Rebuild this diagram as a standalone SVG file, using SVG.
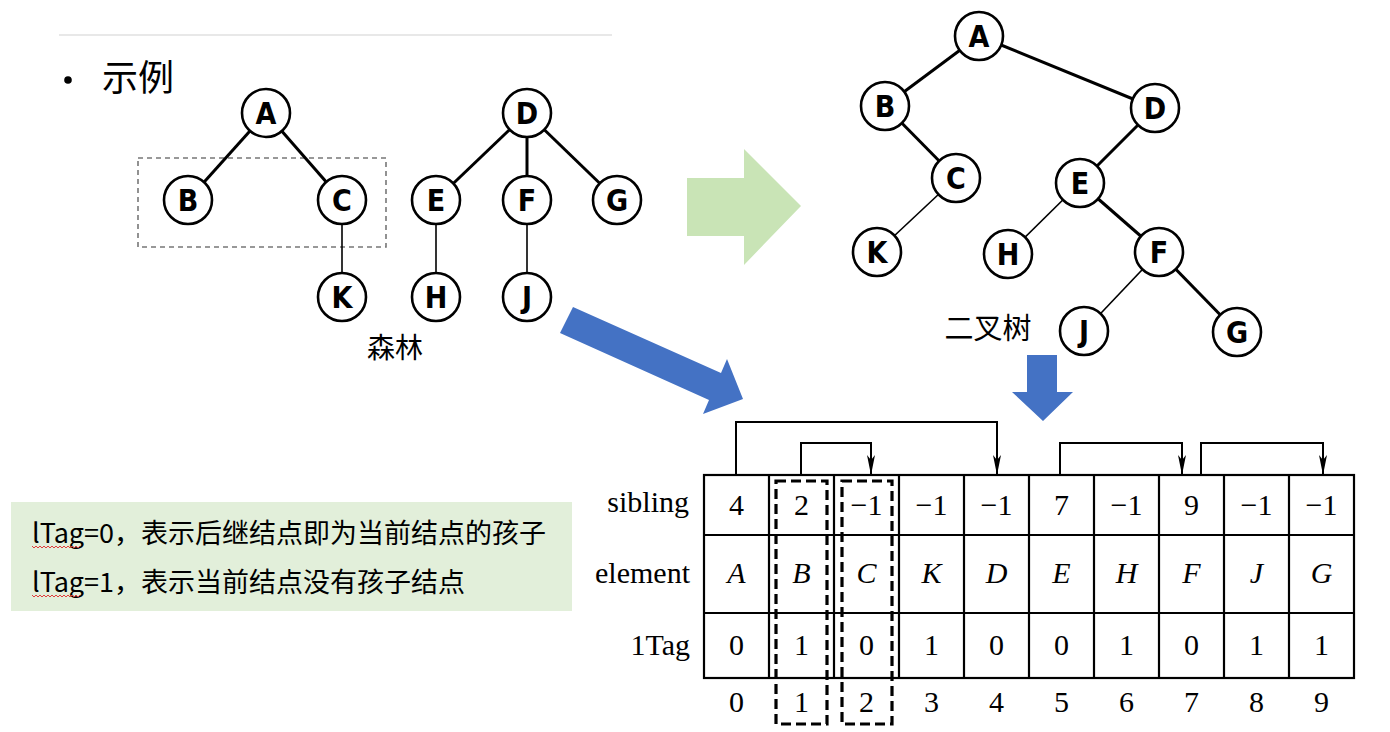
<svg xmlns="http://www.w3.org/2000/svg" width="1390" height="732" viewBox="0 0 1390 732">
<style>
.nc{fill:#fff;stroke:#000;stroke-width:2.6}
.nl{font-family:"DejaVu Sans Condensed","Liberation Sans Narrow","Liberation Sans",sans-serif;font-weight:bold;font-size:30px;text-anchor:middle;fill:#000}
.thick{stroke:#000;stroke-width:3;fill:none}
.thin{stroke:#000;stroke-width:1.6;fill:none}
.cjk{font-family:"Noto Sans CJK SC","Noto Sans",sans-serif;fill:#000}
.tm{font-family:"Liberation Serif","Times New Roman",serif;font-size:30px;fill:#000;text-anchor:middle}
.it{font-style:italic}
.lab{font-family:"Liberation Serif","Times New Roman",serif;font-size:30px;fill:#000;text-anchor:end}
.grid{stroke:#000;stroke-width:2.2;fill:none}
.ptr{stroke:#000;stroke-width:2;fill:none;marker-end:url(#ah)}
.dbox{fill:none;stroke:#000;stroke-width:3.2;stroke-dasharray:10,5}
.sq{fill:none;stroke:#e03c3c;stroke-width:1}
</style>
<defs>
<marker id="ah" markerUnits="userSpaceOnUse" viewBox="0 0 20 10" refX="20" refY="5" markerWidth="20" markerHeight="10" orient="auto">
<path d="M0,1 L20,5 L0,9 L5,5 Z" fill="#000"/>
</marker>
</defs>
<rect width="1390" height="732" fill="#fff"/>

<!-- title -->
<line x1="59" y1="35" x2="612" y2="35" stroke="#e8e8e8" stroke-width="2"/>
<circle cx="68" cy="80" r="3.8" fill="#000"/>
<text x="102" y="91" class="cjk" font-size="36">示例</text>

<!-- dashed selection rect in forest -->
<rect x="138" y="158" width="248" height="89" fill="none" stroke="#777" stroke-width="1.6" stroke-dasharray="5,4"/>

<!-- connectors -->
<g id="connectors">
<!-- forest -->
<line class="thick" x1="266" y1="113" x2="188" y2="200"/>
<line class="thick" x1="266" y1="113" x2="342" y2="200"/>
<line class="thin" x1="342" y1="200" x2="342" y2="297"/>
<line class="thick" x1="527" y1="113" x2="436" y2="200"/>
<line class="thick" x1="527" y1="113" x2="527" y2="200"/>
<line class="thick" x1="527" y1="113" x2="617" y2="200"/>
<line class="thin" x1="436" y1="200" x2="436" y2="297"/>
<line class="thin" x1="527" y1="200" x2="527" y2="297"/>
<!-- binary tree -->
<line class="thick" x1="979" y1="36" x2="885" y2="106"/>
<line class="thick" x1="979" y1="36" x2="1155" y2="108"/>
<line class="thick" x1="885" y1="106" x2="956" y2="178"/>
<line class="thin" x1="956" y1="178" x2="877" y2="252"/>
<line class="thick" x1="1155" y1="108" x2="1080" y2="183"/>
<line class="thin" x1="1080" y1="183" x2="1008" y2="254"/>
<line class="thick" x1="1080" y1="183" x2="1159" y2="252"/>
<line class="thin" x1="1159" y1="252" x2="1084" y2="331"/>
<line class="thick" x1="1159" y1="252" x2="1237" y2="332"/>
<!-- sibling pointers -->
<path class="ptr" d="M736,475 V422 H997 V475"/>
<path class="ptr" d="M801,475 V443 H871 V475"/>
<path class="ptr" d="M1060,475 V443 H1182 V475"/>
<path class="ptr" d="M1201,475 V443 H1323 V475"/>
<!-- big arrows -->
<polygon points="687,178 744,178 744,149 801,206 744,265 744,236 687,236" fill="#c9e4b6"/>
<polygon points="573,307 721,373 727,359 743,399 703,414 709,400 560,333" fill="#4472c4"/>
<polygon points="1027,355 1057,355 1057,392 1073,392 1043,421 1012,392 1027,392" fill="#4472c4"/>
</g>

<!-- forest nodes -->
<g id="f-A"><circle class="nc" cx="266" cy="113" r="24"/><text class="nl" x="266" y="124">A</text></g>
<g id="f-B"><circle class="nc" cx="188" cy="200" r="24"/><text class="nl" x="188" y="211">B</text></g>
<g id="f-C"><circle class="nc" cx="342" cy="200" r="24"/><text class="nl" x="342" y="211">C</text></g>
<g id="f-K"><circle class="nc" cx="342" cy="297" r="24"/><text class="nl" x="342" y="308">K</text></g>
<g id="f-D"><circle class="nc" cx="527" cy="113" r="24"/><text class="nl" x="527" y="124">D</text></g>
<g id="f-E"><circle class="nc" cx="436" cy="200" r="24"/><text class="nl" x="436" y="211">E</text></g>
<g id="f-F"><circle class="nc" cx="527" cy="200" r="24"/><text class="nl" x="527" y="211">F</text></g>
<g id="f-G"><circle class="nc" cx="617" cy="200" r="24"/><text class="nl" x="617" y="211">G</text></g>
<g id="f-H"><circle class="nc" cx="436" cy="297" r="24"/><text class="nl" x="436" y="308">H</text></g>
<g id="f-J"><circle class="nc" cx="527" cy="297" r="24"/><text class="nl" x="527" y="308">J</text></g>
<text x="395" y="358" class="cjk" font-size="28" text-anchor="middle">森林</text>

<!-- binary tree nodes -->
<g id="b-A"><circle class="nc" cx="979" cy="36" r="24"/><text class="nl" x="979" y="47">A</text></g>
<g id="b-B"><circle class="nc" cx="885" cy="106" r="24"/><text class="nl" x="885" y="117">B</text></g>
<g id="b-D"><circle class="nc" cx="1155" cy="108" r="24"/><text class="nl" x="1155" y="119">D</text></g>
<g id="b-C"><circle class="nc" cx="956" cy="178" r="24"/><text class="nl" x="956" y="189">C</text></g>
<g id="b-E"><circle class="nc" cx="1080" cy="183" r="24"/><text class="nl" x="1080" y="194">E</text></g>
<g id="b-K"><circle class="nc" cx="877" cy="252" r="24"/><text class="nl" x="877" y="263">K</text></g>
<g id="b-H"><circle class="nc" cx="1008" cy="254" r="24"/><text class="nl" x="1008" y="265">H</text></g>
<g id="b-F"><circle class="nc" cx="1159" cy="252" r="24"/><text class="nl" x="1159" y="263">F</text></g>
<g id="b-J"><circle class="nc" cx="1084" cy="331" r="24"/><text class="nl" x="1084" y="342">J</text></g>
<g id="b-G"><circle class="nc" cx="1237" cy="332" r="24"/><text class="nl" x="1237" y="343">G</text></g>
<text x="988" y="339" class="cjk" font-size="29" text-anchor="middle">二叉树</text>

<!-- green note -->
<g id="note">
<rect x="11" y="502" width="561" height="109" fill="#e2efda"/>
<text x="32" y="543" class="cjk" font-size="27">lTag=0，表示后继结点即为当前结点的孩子</text>
<text x="32" y="592" class="cjk" font-size="27">lTag=1，表示当前结点没有孩子结点</text>
<polyline class="sq" points="32,546 34,548 36,546 38,548 40,546 42,548 44,546 46,548 48,546 50,548 52,546 54,548 56,546 58,548 60,546 62,548 64,546 66,548 68,546 70,548 72,546 74,548 76,546 78,548 80,546"/>
<polyline class="sq" points="32,595 34,597 36,595 38,597 40,595 42,597 44,595 46,597 48,595 50,597 52,595 54,597 56,595 58,597 60,595 62,597 64,595 66,597 68,595 70,597 72,595 74,597 76,595 78,597 80,595"/>
</g>

<!-- table -->
<g id="table">
<rect class="grid" x="704" y="475" width="650" height="203"/>
<line class="grid" x1="704" y1="535" x2="1354" y2="535"/>
<line class="grid" x1="704" y1="613" x2="1354" y2="613"/>
<path class="grid" d="M769,475V678 M834,475V678 M899,475V678 M964,475V678 M1029,475V678 M1094,475V678 M1159,475V678 M1224,475V678 M1289,475V678"/>
<text class="lab" x="689" y="512">sibling</text>
<text class="lab" x="690" y="583">element</text>
<text class="lab" x="690" y="655">1Tag</text>
<g class="tm">
<text x="736.5" y="515">4</text><text x="801.5" y="515">2</text><text x="866.5" y="515">−1</text><text x="931.5" y="515">−1</text><text x="996.5" y="515">−1</text><text x="1061.5" y="515">7</text><text x="1126.5" y="515">−1</text><text x="1191.5" y="515">9</text><text x="1256.5" y="515">−1</text><text x="1321.5" y="515">−1</text>
</g>
<g class="tm it">
<text x="736.5" y="583">A</text><text x="801.5" y="583">B</text><text x="866.5" y="583">C</text><text x="931.5" y="583">K</text><text x="996.5" y="583">D</text><text x="1061.5" y="583">E</text><text x="1126.5" y="583">H</text><text x="1191.5" y="583">F</text><text x="1256.5" y="583">J</text><text x="1321.5" y="583">G</text>
</g>
<g class="tm">
<text x="736.5" y="655">0</text><text x="801.5" y="655">1</text><text x="866.5" y="655">0</text><text x="931.5" y="655">1</text><text x="996.5" y="655">0</text><text x="1061.5" y="655">0</text><text x="1126.5" y="655">1</text><text x="1191.5" y="655">0</text><text x="1256.5" y="655">1</text><text x="1321.5" y="655">1</text>
</g>
<g class="tm">
<text x="736.5" y="712">0</text><text x="801.5" y="712">1</text><text x="866.5" y="712">2</text><text x="931.5" y="712">3</text><text x="996.5" y="712">4</text><text x="1061.5" y="712">5</text><text x="1126.5" y="712">6</text><text x="1191.5" y="712">7</text><text x="1256.5" y="712">8</text><text x="1321.5" y="712">9</text>
</g>
<rect class="dbox" x="776" y="481" width="51" height="243"/>
<rect class="dbox" x="842" y="481" width="50" height="243"/>
</g>
</svg>
